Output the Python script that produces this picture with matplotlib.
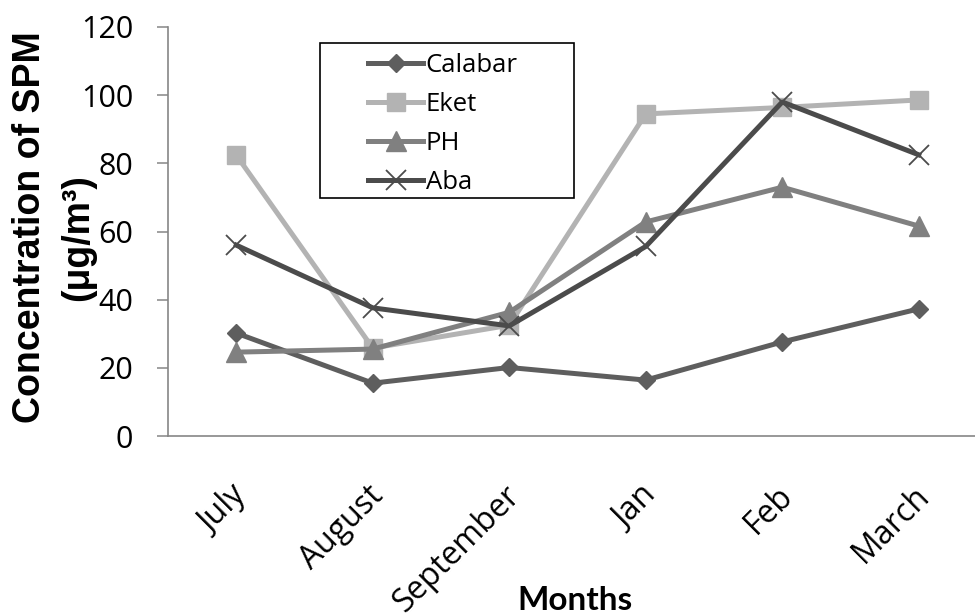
import matplotlib
matplotlib.use("Agg")
import matplotlib.pyplot as plt
from matplotlib.patches import Rectangle
from matplotlib.transforms import ScaledTranslation

months = ["July", "August", "September", "Jan", "Feb", "March"]
calabar = [30.2, 15.5, 20.1, 16.4, 27.6, 37.3]
eket = [82.4, 25.8, 32.5, 94.5, 96.4, 98.6]
ph = [24.6, 25.5, 36.3, 62.8, 73.0, 61.6]
aba = [56.0, 37.6, 32.3, 55.6, 98.0, 82.5]
yticks = [0, 20, 40, 60, 80, 100, 120]

W, H = 975, 614
fig = plt.figure(figsize=(W / 100, H / 100), dpi=100)
ax = fig.add_axes([168 / W, 1 - 436 / H, (987 - 168) / W, (436 - 27) / H])

x = list(range(len(months)))
lw = 3.6
ax.plot(x, calabar, color="#5e5e5e", lw=lw, marker="D", ms=9, mec="#5e5e5e", label="Calabar", zorder=3)
ax.plot(x, eket, color="#b3b3b3", lw=lw, marker="s", ms=13, mec="#b3b3b3", label="Eket", zorder=3)
ax.plot(x, ph, color="#808080", lw=lw, marker="^", ms=14, mec="#808080", label="PH", zorder=3)
ax.plot(x, aba, color="#4b4b4b", lw=lw, marker="x", ms=14, mew=1.3, mec="#4b4b4b", label="Aba", zorder=4)

ax.set_xlim(-0.5, len(months) - 0.5)
ax.set_ylim(0, 120)
ax.set_yticks(yticks)
ax.set_yticklabels([str(v) for v in yticks], fontsize=22, family="Open Sans")
ax.tick_params(axis="y", direction="out", length=8, width=1.1, color="#868686", pad=17)
ax.set_xticks(x)
ax.set_xticklabels(months, rotation=45, ha="right", va="baseline", rotation_mode="anchor",
                   fontsize=23, family="Open Sans")
ax.tick_params(axis="x", length=0, pad=(497 - 436) * 0.72)
off = ScaledTranslation(12 / 100, 0, fig.dpi_scale_trans)
for lab in ax.get_xticklabels():
    lab.set_transform(lab.get_transform() + off)

for s in ["top", "right"]:
    ax.spines[s].set_visible(False)
for s in ["left", "bottom"]:
    ax.spines[s].set_color("#868686")
    ax.spines[s].set_linewidth(1.2)

fig.text(30 / W, 1 - 227 / H, "Concentration of SPM", rotation=90, ha="center", va="center",
         fontsize=27, fontweight="bold", family="Liberation Sans")
fig.text(78 / W, 1 - 238 / H, "(μg/m³)", rotation=90, ha="center", va="center",
         fontsize=27, fontweight="bold", family="Liberation Sans")
fig.text(575 / W, 1 - 601 / H, "Months", ha="center", va="center",
         fontsize=24, fontweight="bold", family="Lato")

fig.patches.append(Rectangle((320 / W, 1 - 198 / H), (574 - 320) / W, (198 - 43) / H,
                             transform=fig.transFigure, fill=False, ec="black", lw=1.2))
leg = ax.legend(loc="upper left", bbox_to_anchor=(368 / W, 1 - 53 / H),
                bbox_transform=fig.transFigure, frameon=False,
                prop={"family": "Open Sans", "size": 18.5}, handlelength=2.15, handletextpad=0.1,
                labelspacing=0.55, borderpad=0.0, borderaxespad=0.0)

fig.savefig("out.png", dpi=100)
